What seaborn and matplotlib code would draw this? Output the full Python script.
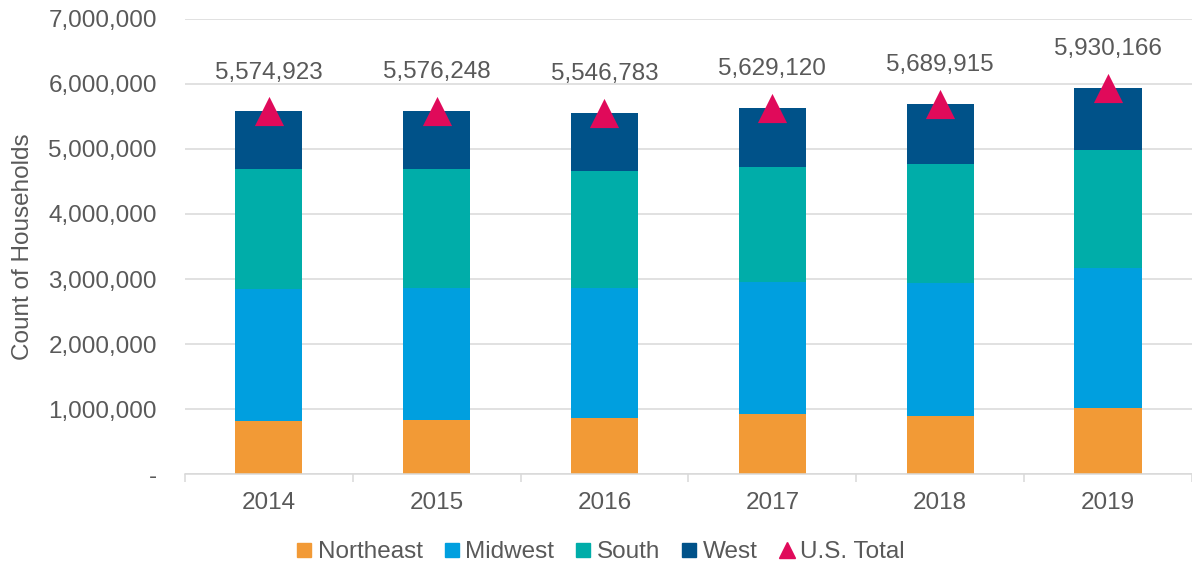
import numpy as np
import matplotlib
matplotlib.use("Agg")
import matplotlib.pyplot as plt
from matplotlib.lines import Line2D
from matplotlib.ticker import FuncFormatter, FixedLocator
import seaborn as sns

# Data
years = ["2014", "2015", "2016", "2017", "2018", "2019"]
northeast = [816000, 842000, 867000, 934000, 893000, 1015000]
midwest = [2024000, 2022000, 1997000, 2016000, 2047000, 2155000]
south = [1846000, 1826000, 1791000, 1767000, 1827000, 1807000]
west = [889000, 886000, 892000, 912000, 923000, 953000]
us_total = [5574923, 5576248, 5546783, 5629120, 5689915, 5930166]

regions = ["Northeast", "Midwest", "South", "West"]
colors = ["#F29A36", "#009FDF", "#00ADA9", "#005289"]
tri_color = "#E00A5A"
text_color = "#595959"
grid_color = "#D9D9D9"
fs = 17.5

sns.set_theme(style="white")
plt.rcParams["font.family"] = ["Liberation Sans", "DejaVu Sans"]

fig = plt.figure(figsize=(11.92, 5.66), dpi=100)
ax = fig.add_axes([0.155, 0.162, 0.845, 0.805])

# stacked bars: draw cumulative heights from the top segment down
series = [northeast, midwest, south, west]
cum = np.cumsum(np.array(series), axis=0)
for k in range(len(series) - 1, -1, -1):
    sns.barplot(x=years, y=cum[k], color=colors[k], width=0.4,
                saturation=1, ax=ax, zorder=2, edgecolor="none")

# U.S. total markers and labels
xpos = np.arange(len(years))
ax.scatter(xpos, us_total, marker="^", s=21 ** 2, color=tri_color,
           zorder=4, linewidths=0)
for i, v in enumerate(us_total):
    ax.annotate(f"{v:,}", (xpos[i], v), xytext=(0, 28), textcoords="offset points",
                ha="center", va="center", fontsize=fs, color=text_color)

ax.set_ylim(0, 7000000)
ax.set_xlim(-0.5, len(years) - 0.5)
ax.set_yticks(np.arange(0, 7000001, 1000000))
ax.yaxis.set_major_formatter(FuncFormatter(lambda v, p: "-" if v == 0 else f"{int(v):,}"))
ax.grid(axis="y", color=grid_color, linewidth=1.1, zorder=0)
ax.set_axisbelow(True)

for s in ["top", "right", "left"]:
    ax.spines[s].set_visible(False)
ax.spines["bottom"].set_color(grid_color)
ax.spines["bottom"].set_linewidth(1.1)

ax.xaxis.set_minor_locator(FixedLocator(np.arange(-0.5, len(years), 1.0)))
ax.tick_params(axis="x", which="major", length=0, pad=13, labelsize=fs, labelcolor=text_color)
ax.tick_params(axis="x", which="minor", length=6, width=1.1, color=grid_color, bottom=True)
ax.tick_params(axis="y", length=0, pad=20, labelsize=fs, labelcolor=text_color)

ax.set_xlabel("")
ax.set_ylabel("Count of Households", fontsize=fs, color=text_color)
ax.yaxis.set_label_coords(-0.150, 0.5)

handles = [Line2D([], [], marker="s", linestyle="none", color=c, markersize=10)
           for c in colors]
handles.append(Line2D([], [], marker="^", linestyle="none", color=tri_color, markersize=11))
fig.legend(handles, regions + ["U.S. Total"], loc="center", bbox_to_anchor=(0.502, 0.024),
           ncol=5, frameon=False, fontsize=fs, labelcolor=text_color,
           handletextpad=0.05, columnspacing=0.7, handlelength=1.0)

fig.savefig("out.png", dpi=100)
